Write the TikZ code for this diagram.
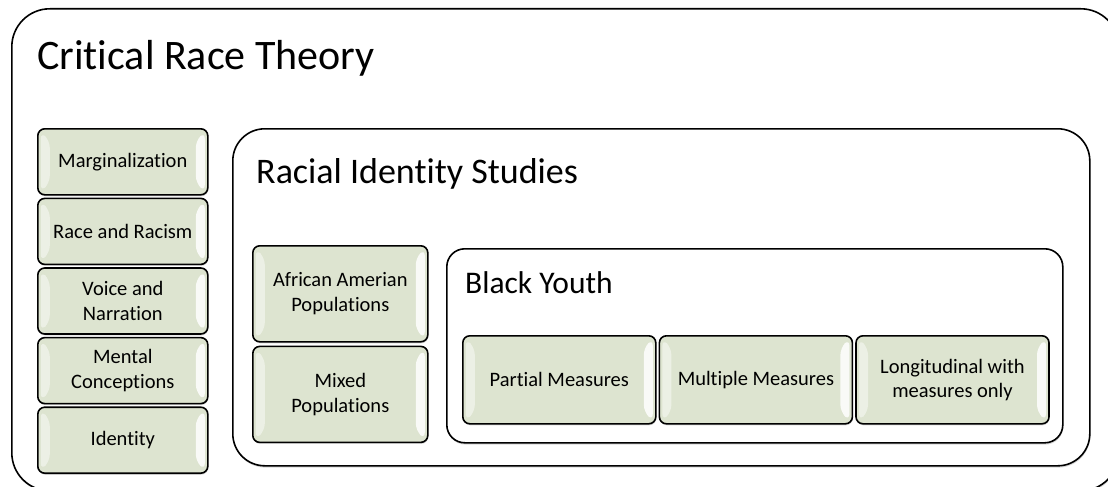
\documentclass[tikz,border=0pt]{standalone}
\usepackage{fontspec}
\setmainfont{Carlito}[Ligatures={NoCommon}]
\usetikzlibrary{positioning, shadows}
\definecolor{tilegreen}{RGB}{221,228,208}
\tikzset{
  frame/.style = {draw=black, line width=1.6pt, fill=white, anchor=north west,
    inner sep=0pt, drop shadow={shadow xshift=0.5pt, shadow yshift=-1.8pt,
    opacity=0.3}},
  tile/.style = {draw=black, line width=1.6pt, fill=tilegreen,
    rounded corners=7pt, anchor=north west, align=center, inner sep=0pt,
    font=\fontsize{20.5}{24.5}\selectfont,
    drop shadow={shadow xshift=0.5pt, shadow yshift=-1.5pt, opacity=0.3},
    path picture={
      \fill[white, opacity=0.45]
        ([shift={(3pt,-3pt)}]path picture bounding box.north west) -- ++(9pt,-9pt)
        -- ([shift={(12pt,12pt)}]path picture bounding box.south west) -- ++(-9pt,-9pt) -- cycle;
      \fill[white, opacity=0.85]
        ([shift={(-3pt,-3pt)}]path picture bounding box.north east) -- ++(-9pt,-9pt)
        -- ([shift={(-12pt,12pt)}]path picture bounding box.south east) -- ++(9pt,-9pt) -- cycle;
    }},
  heading/.style = {anchor=base west, inner sep=0pt}
}

\begin{document}
\begin{tikzpicture}[x=1pt, y=-1pt, node distance=2pt]
\useasboundingbox (0,0) rectangle (1108,487);
\clip (0,0) rectangle (1108,487);

% Critical Race Theory
\node [frame, rounded corners=38pt, minimum width=1107pt, minimum height=482pt] (crt) at (11,8) {};
\node [heading, font=\fontsize{42}{50}\selectfont] (crttitle) at (37,70) {Critical Race Theory};
\node [tile, minimum width=170pt, minimum height=66pt] (marg) at (37,128) {Marginalization};
\node [tile, minimum width=170pt, minimum height=66pt, below=of marg] (race) {Race and Racism};
\node [tile, minimum width=170pt, minimum height=66pt, below=of race] (voice) {Voice and\\Narration};
\node [tile, minimum width=170pt, minimum height=66pt, below=of voice] (mental) {Mental\\Conceptions};
\node [tile, minimum width=170pt, minimum height=66pt, below=of mental] (ident) {Identity};

% Racial Identity Studies
\node [frame, rounded corners=32pt, minimum width=857pt, minimum height=337pt] (ris) at (232,128) {};
\node [heading, font=\fontsize{36}{42}\selectfont] (ristitle) at (256,183) {Racial Identity Studies};
\node [tile, minimum width=175pt, minimum height=96pt] (afam) at (252,245) {African Amerian\\Populations};
\node [tile, minimum width=175pt, minimum height=96pt, below=3pt of afam] (mixed) {Mixed\\Populations};

% Black Youth
\node [frame, rounded corners=18pt, minimum width=616pt, minimum height=194pt] (by) at (446,248) {};
\node [heading, font=\fontsize{31.5}{37}\selectfont] (bytitle) at (465,293) {Black Youth};
\node [tile, minimum width=193pt, minimum height=88pt] (partial) at (462,335) {Partial Measures};
\node [tile, minimum width=193pt, minimum height=88pt, right=of partial] (multiple) {Multiple Measures};
\node [tile, minimum width=193pt, minimum height=88pt, right=of multiple] (longit) {Longitudinal with\\measures only};
\end{tikzpicture}
\end{document}
